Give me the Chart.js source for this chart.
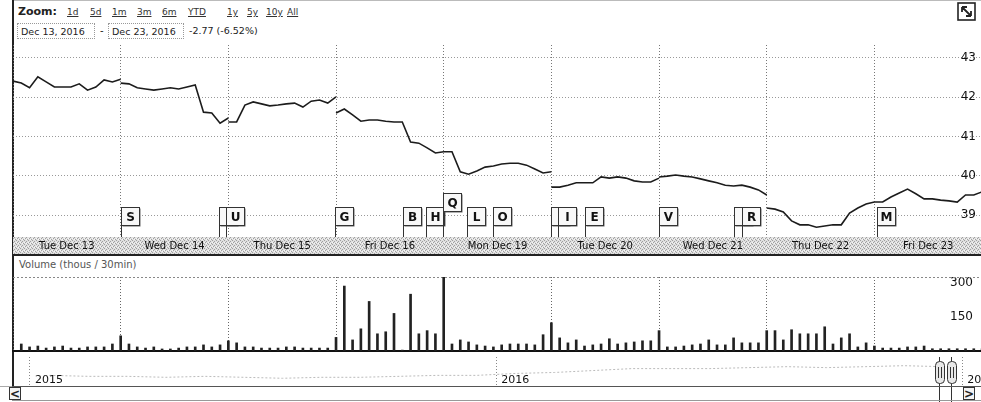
<!DOCTYPE html>
<html><head><meta charset="utf-8">
<script src="https://cdn.jsdelivr.net/npm/chart.js@4.4.0/dist/chart.umd.min.js"></script>
<style>
html,body{margin:0;padding:0;background:#fff;width:981px;height:402px;overflow:hidden;font-family:"DejaVu Sans",Verdana,sans-serif;color:#222;}
#wrap{position:relative;width:981px;height:402px;}
canvas{position:absolute;left:0;}
.t{position:absolute;white-space:nowrap;}
.lk{position:absolute;top:7px;font-size:9px;text-decoration:underline;color:#333;white-space:nowrap;}
.dbox{position:absolute;top:23px;height:16px;line-height:16px;font-size:9.5px;border:1px dotted #999;padding-left:3px;box-sizing:border-box;white-space:nowrap;}
#lborder{position:absolute;left:12px;top:0;width:2px;height:386px;background:#222;}
#topline{position:absolute;left:12px;top:0;width:969px;height:1px;background:#bbb;}
.sbtn{position:absolute;top:387px;width:12px;height:13px;border:1px solid #333;font-size:12px;font-weight:bold;line-height:12px;text-align:center;background:#f4f4f4;box-sizing:border-box;overflow:hidden;}
</style></head>
<body><div id="wrap">
<div id="topline"></div>
<div id="lborder"></div>
<div class="t" style="left:18px;top:5px;font-size:11px;font-weight:bold;">Zoom:</div>
<span class="lk" style="left:67px">1d</span>
<span class="lk" style="left:90px">5d</span>
<span class="lk" style="left:112px">1m</span>
<span class="lk" style="left:137px">3m</span>
<span class="lk" style="left:162px">6m</span>
<span class="lk" style="left:188px">YTD</span>
<span class="lk" style="left:227px">1y</span>
<span class="lk" style="left:247px">5y</span>
<span class="lk" style="left:266px">10y</span>
<span class="lk" style="left:287px">All</span>
<div class="dbox" style="left:17px;width:78px;">Dec 13, 2016</div>
<div class="t" style="left:100px;top:25px;font-size:10px;">-</div>
<div class="dbox" style="left:108px;width:76px;">Dec 23, 2016</div>
<div class="t" style="left:189px;top:25px;font-size:9.5px;">-2.77 (-6.52%)</div>
<svg style="position:absolute;left:957px;top:2px" width="20" height="20" viewBox="0 0 20 20">
 <rect x="1" y="1" width="17" height="17" fill="#fff" stroke="#222" stroke-width="1.6"/>
 <path d="M5 5 L14 14 M5 5 L5 10 M5 5 L10 5 M14 14 L14 9 M14 14 L9 14" stroke="#222" stroke-width="1.8" fill="none"/>
</svg>
<canvas id="pc" width="981" height="216" style="top:40px"></canvas>
<div class="t" style="left:19px;top:259px;font-size:10px;color:#555;">Volume (thous / 30min)</div>
<canvas id="vc" width="981" height="97" style="top:255px"></canvas>
<canvas id="nc" width="981" height="50" style="top:352px"></canvas>
<div style="position:absolute;left:12px;top:386px;width:969px;height:1px;background:#555;"></div>
<div style="position:absolute;left:12px;top:400px;width:969px;height:1px;background:#999;"></div>
<div class="sbtn" style="left:9px;">&lt;</div>
<div class="sbtn" style="left:963px;">&gt;</div>
</div>
<script>
// ---------- data ----------
const dayLabels = ['Tue Dec 13','Wed Dec 14','Thu Dec 15','Fri Dec 16','Mon Dec 19','Tue Dec 20','Wed Dec 21','Thu Dec 22','Fri Dec 23'];
const slotsPerDay = 13; // 30-minute intervals 9:30 - 16:00

const priceDec13 = [42.41,42.36,42.24,42.52,42.39,42.26,42.26,42.26,42.34,42.18,42.26,42.44,42.39,42.46];
const priceDec14 = [42.36,42.34,42.24,42.21,42.18,42.21,42.24,42.21,42.26,42.31,41.62,41.60,41.34,41.47];
const priceDec15 = [41.37,41.37,41.80,41.88,41.83,41.78,41.80,41.83,41.85,41.75,41.90,41.93,41.85,42.01];
const priceDec16 = [41.60,41.70,41.55,41.39,41.42,41.42,41.39,41.37,41.37,40.86,40.83,40.71,40.58,40.61];
const priceDec19 = [40.61,40.61,40.10,40.04,40.12,40.22,40.25,40.30,40.32,40.32,40.27,40.17,40.07,40.10];
const priceDec20 = [39.71,39.71,39.76,39.82,39.82,39.82,39.97,39.94,39.97,39.94,39.87,39.84,39.84,39.94];
const priceDec21 = [39.97,39.99,40.02,39.99,39.97,39.92,39.87,39.82,39.76,39.74,39.76,39.71,39.64,39.51];
const priceDec22 = [39.18,39.15,39.08,38.85,38.75,38.75,38.69,38.72,38.75,38.75,39.05,39.18,39.28,39.33];
const priceDec23 = [39.33,39.33,39.46,39.56,39.66,39.54,39.41,39.41,39.38,39.36,39.33,39.51,39.51,39.59];

const volDec13 = [31,18,22,13,18,22,13,13,18,18,18,31,67];
const volDec14 = [31,18,13,18,9,9,13,18,18,27,18,27,45];
const volDec15 = [36,18,18,13,13,13,18,18,13,13,13,13,60];
const volDec16 = [287,49,98,219,76,85,166,4,251,76,90,76,420];
const volDec19 = [31,49,40,27,22,18,27,31,31,31,27,72,125];
const volDec20 = [58,36,49,22,27,31,54,31,36,40,45,45,90];
const volDec21 = [18,18,22,27,31,49,27,27,58,36,36,36,90];
const volDec22 = [90,49,94,76,76,76,107,31,58,76,18,36,22];
const volDec23 = [13,13,13,18,18,22,10,10,10,10,10,10,10];

const priceTicks = [39,40,41,42,43];
const volumeTicks = [150,300];

// news flags: letter and time (trading day index + fraction of session)
const newsLetters = ['S','','U','G','B','H','Q','L','O','','I','E','V','','R','M'];
const newsTimes   = [1.00,1.91,1.98,2.99,3.62,3.84,3.99,4.22,4.46,5.00,5.06,5.31,6.00,6.70,6.77,8.02];
const raisedFlags = ['Q'];

// navigator: monthly closes Jan 2015 .. Dec 2016 (month index 0 = Jan 2015)
const navValues = [31,30,30,29,30,29,28,29,29,30,31,31,33,34,36,38,38,38,39,40,39,40,41,40];
const navYears = ['2015','2016','2017'];
const navWindow = [23.39, 23.71]; // Dec 13 2016 .. Dec 23 2016 in month units

// ---------- build ----------
const priceDays = [priceDec13,priceDec14,priceDec15,priceDec16,priceDec19,priceDec20,priceDec21,priceDec22,priceDec23];
const volDays = [volDec13,volDec14,volDec15,volDec16,volDec19,volDec20,volDec21,volDec22,volDec23];
const pricePoints = [];
priceDays.forEach((arr,d)=>{
  arr.forEach((v,i)=>pricePoints.push({x:d+i/slotsPerDay,y:v}));
  pricePoints.push({x:d+1,y:null});
});
const volPoints = [];
volDays.forEach((arr,d)=>arr.forEach((v,k)=>volPoints.push({x:d+(k+1)/slotsPerDay,y:v})));
const dayTicks = [];
for(let v=0; v<dayLabels.length; v+=0.5) dayTicks.push(v);

const XMAX = 8.99;
const FONT = '"DejaVu Sans", Verdana, sans-serif';
Chart.defaults.font.family = FONT;
Chart.defaults.animation = false;

function makePattern(){
  const c = document.createElement('canvas'); c.width=4; c.height=4;
  const g = c.getContext('2d');
  g.fillStyle='#e0e0e0'; g.fillRect(0,0,4,4);
  g.fillStyle='#a0a0a0';
  [[0,0],[2,1],[1,2],[3,3]].forEach(p=>g.fillRect(p[0],p[1],1,1));
  g.fillStyle='#f6f6f6';
  [[2,3],[0,2]].forEach(p=>g.fillRect(p[0],p[1],1,1));
  return c;
}

const bandPlugin = {
  id:'band',
  beforeDraw(chart){
    const {ctx, chartArea} = chart;
    ctx.save();
    ctx.fillStyle = ctx.createPattern(makePattern(),'repeat');
    ctx.fillRect(chartArea.left, chartArea.bottom, chart.width-chartArea.left, 17);
    ctx.fillStyle = '#222';
    ctx.fillRect(chartArea.left, chartArea.bottom+17, chart.width-chartArea.left, 2);
    ctx.restore();
  }
};

const flagPlugin = {
  id:'flags',
  afterDatasetsDraw(chart){
    const {ctx, chartArea, scales:{x}} = chart;
    ctx.save();
    newsTimes.forEach((t,i)=>{
      const letter = newsLetters[i];
      const px = Math.round(x.getPixelForValue(t))+0.5;
      const raised = raisedFlags.includes(letter);
      const w=18, h=18;
      const bottom = Math.round(chartArea.bottom - 12 - (raised?14:0))+0.5;
      const top = bottom - h;
      ctx.strokeStyle='#333'; ctx.lineWidth=1;
      ctx.beginPath(); ctx.moveTo(px,bottom); ctx.lineTo(px,chartArea.bottom); ctx.stroke();
      ctx.fillStyle='#666'; ctx.fillRect(px+1,top+1,w,h);
      ctx.fillStyle='#f8f8f8'; ctx.fillRect(px,top,w,h);
      ctx.strokeRect(px,top,w,h);
      if(letter){
        ctx.fillStyle='#111'; ctx.font='bold 12px '+FONT;
        ctx.textAlign='center'; ctx.textBaseline='middle';
        ctx.fillText(letter, px+w/2, top+h/2+1);
      }
    });
    ctx.restore();
  }
};

new Chart(document.getElementById('pc'),{
  type:'line',
  data:{datasets:[{data:pricePoints,borderColor:'#1c1c1c',borderWidth:1.6,pointRadius:0,spanGaps:false,tension:0}]},
  options:{
    responsive:false, animation:false,
    layout:{padding:{left:13,right:0,top:5,bottom:2}},
    plugins:{legend:{display:false},tooltip:{enabled:false}},
    scales:{
      x:{type:'linear',min:0,max:XMAX,
        afterBuildTicks:s=>{s.ticks=dayTicks.map(v=>({value:v}));},
        afterFit:s=>{s.height=17;},
        ticks:{autoSkip:false,maxRotation:0,minRotation:0,padding:3,color:'#111',font:{size:10},
          callback:v=> (v%1===0.5) ? dayLabels[Math.floor(v)] : ''},
        grid:{drawTicks:false,color:c=> (c.tick && c.tick.value%1===0) ? '#777' : 'rgba(0,0,0,0)'},
        border:{display:false,dash:[1,2]}},
      y:{type:'linear',position:'right',min:38.44,max:43.33,
        afterBuildTicks:s=>{s.ticks=priceTicks.map(v=>({value:v}));},
        afterFit:s=>{s.width=0;},
        ticks:{mirror:true,padding:-5,color:'#111',font:{size:12}},
        grid:{drawTicks:false,color:'#999'},
        border:{display:false,dash:[1,2]}}
    }
  },
  plugins:[bandPlugin,flagPlugin]
});

const volTopPlugin = {
  id:'voltop',
  beforeDatasetsDraw(chart){
    const {ctx, chartArea} = chart;
    ctx.save(); ctx.strokeStyle='#888'; ctx.setLineDash([2,2]); ctx.lineWidth=1;
    ctx.beginPath(); ctx.moveTo(chartArea.left, chartArea.top+0.5); ctx.lineTo(chart.width, chartArea.top+0.5); ctx.stroke();
    ctx.restore();
  }
};

new Chart(document.getElementById('vc'),{
  type:'bar',
  data:{datasets:[{data:volPoints,backgroundColor:'#222',barThickness:2}]},
  options:{
    responsive:false, animation:false,
    layout:{padding:{left:13,right:0,top:22,bottom:1}},
    plugins:{legend:{display:false},tooltip:{enabled:false}},
    scales:{
      x:{type:'linear',min:0,max:XMAX,offset:false,
        afterBuildTicks:s=>{s.ticks=dayLabels.map((l,i)=>({value:i}));},
        afterFit:s=>{s.height=0;},
        ticks:{display:false},
        grid:{offset:false,drawTicks:false,color:'#666'},
        border:{display:true,color:'#111',width:2,dash:[1,2]}},
      y:{type:'linear',position:'right',min:0,max:327,
        afterBuildTicks:s=>{s.ticks=volumeTicks.map(v=>({value:v}));},
        afterFit:s=>{s.width=0;},
        ticks:{mirror:true,padding:-8,color:'#111',font:{size:12}},
        grid:{display:false},
        border:{display:false}}
    }
  },
  plugins:[volTopPlugin]
});

const navPlugin = {
  id:'nav',
  afterDraw(chart){
    const {ctx, chartArea, scales:{x}} = chart;
    ctx.save();
    ctx.fillStyle='#111'; ctx.font='11px '+FONT; ctx.textAlign='left'; ctx.textBaseline='alphabetic';
    navYears.forEach((y,i)=>{ ctx.fillText(y, x.getPixelForValue(i*12)+5, chartArea.bottom-3); });
    navWindow.forEach(m=>{
      const px = Math.round(x.getPixelForValue(m));
      ctx.strokeStyle='#333'; ctx.lineWidth=1;
      ctx.beginPath(); ctx.moveTo(px+0.5, chartArea.top); ctx.lineTo(px+0.5, chart.height); ctx.stroke();
      const hx = px-4, hy = chartArea.top+4, hw=9, hh=22;
      ctx.fillStyle='#e8e8e8';
      ctx.beginPath(); ctx.roundRect(hx+0.5,hy+0.5,hw,hh,4); ctx.fill(); ctx.stroke();
      ctx.beginPath(); ctx.moveTo(hx+3.5,hy+6); ctx.lineTo(hx+3.5,hy+hh-5); ctx.moveTo(hx+6.5,hy+6); ctx.lineTo(hx+6.5,hy+hh-5); ctx.stroke();
    });
    ctx.restore();
  }
};

new Chart(document.getElementById('nc'),{
  type:'line',
  data:{datasets:[{data:navValues.map((v,i)=>({x:i+0.5,y:v})),borderColor:'#bbb',borderWidth:1,borderDash:[2,2],pointRadius:0,tension:0}]},
  options:{
    responsive:false, animation:false,
    layout:{padding:{left:0,right:0,top:5,bottom:16}},
    plugins:{legend:{display:false},tooltip:{enabled:false}},
    scales:{
      x:{type:'linear',min:-0.772,max:24.48,
        afterBuildTicks:s=>{s.ticks=navYears.map((y,i)=>({value:i*12}));},
        afterFit:s=>{s.height=0;},
        ticks:{display:false},
        grid:{drawTicks:false,color:'#888'},
        border:{display:true,color:'#aaa',width:1,dash:[1,2]}},
      y:{display:false,min:20,max:50}
    }
  },
  plugins:[navPlugin]
});
</script>
</body></html>
